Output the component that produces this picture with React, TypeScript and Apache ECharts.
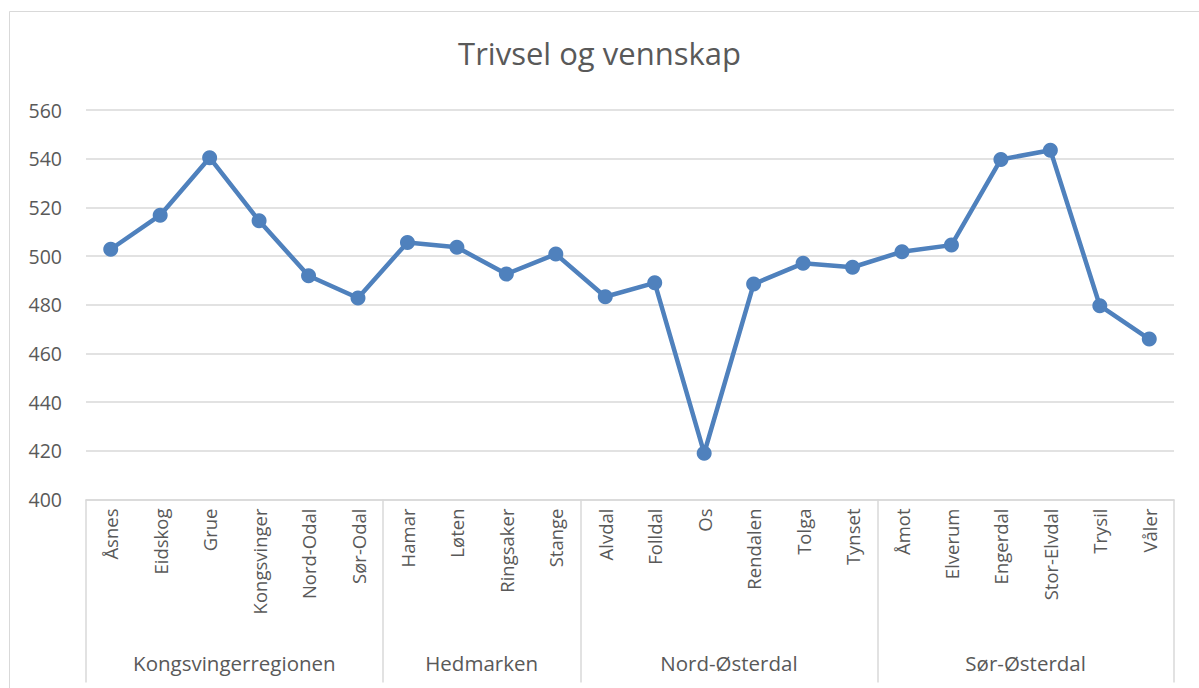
import React, { useEffect, useRef } from "react";
import * as echarts from "echarts";

const TITLE = "Trivsel og vennskap";
const categories = [
  "Åsnes", "Eidskog", "Grue", "Kongsvinger", "Nord-Odal", "Sør-Odal",
  "Hamar", "Løten", "Ringsaker", "Stange",
  "Alvdal", "Folldal", "Os", "Rendalen", "Tolga", "Tynset",
  "Åmot", "Elverum", "Engerdal", "Stor-Elvdal", "Trysil", "Våler",
];
const values = [
  502.8, 516.8, 540.4, 514.5, 491.9, 482.8,
  505.6, 503.6, 492.6, 500.8,
  483.3, 489.0, 419.0, 488.5, 497.0, 495.4,
  501.8, 504.5, 539.7, 543.5, 479.6, 465.9,
];
const groupNames = ["Kongsvingerregionen", "Hedmarken", "Nord-Østerdal", "Sør-Østerdal"];
const groupSizes = [6, 4, 6, 6];
const yMin = 400;
const yMax = 560;
const yStep = 20;

const FONT = "'Open Sans', sans-serif";
const TEXT = "#595959";
const GRID = "#d9d9d9";
const LINE = "#4f81bd";

export default function App() {
  const ref = useRef<HTMLDivElement>(null);
  useEffect(() => {
    document.body.style.margin = "0";
    const chart = echarts.init(ref.current!, null, { renderer: "svg" });
    const bounds: number[] = [0];
    groupSizes.forEach((s) => bounds.push(bounds[bounds.length - 1] + s));
    const centers = groupSizes.map((s, i) => bounds[i] + s / 2);
    chart.setOption({
      animation: false,
      backgroundColor: "#ffffff",
      textStyle: { fontFamily: FONT },
      title: {
        text: TITLE,
        left: "center",
        top: 32,
        textStyle: { fontFamily: FONT, fontSize: 31, fontWeight: "normal", color: TEXT },
      },
      graphic: [
        {
          type: "rect",
          shape: { x: 9.5, y: 11.5, width: 1200, height: 700 },
          style: { fill: "none", stroke: GRID, lineWidth: 1 },
          silent: true,
        },
      ],
      grid: { left: 86, right: 25, top: 110, bottom: 188.5, containLabel: false },
      xAxis: [
        {
          type: "category",
          data: categories,
          boundaryGap: true,
          axisLine: { show: true, lineStyle: { color: GRID, width: 1.5 } },
          axisTick: { show: false },
          axisLabel: {
            rotate: 90,
            margin: 9,
            fontFamily: FONT,
            fontSize: 18.5,
            color: TEXT,
            interval: 0,
          },
          splitLine: { show: false },
        },
        {
          type: "value",
          min: 0,
          max: categories.length,
          position: "bottom",
          axisLine: { show: false },
          splitLine: { show: false },
          axisTick: {
            show: true,
            customValues: bounds,
            length: 183,
            lineStyle: { color: GRID, width: 1.5 },
          },
          axisLabel: {
            customValues: centers,
            margin: 153,
            fontFamily: FONT,
            fontSize: 20.5,
            color: TEXT,
            formatter: (v: number) => {
              const i = centers.findIndex((c) => Math.abs(c - v) < 1e-6);
              return i >= 0 ? groupNames[i] : "";
            },
          },
        },
      ],
      yAxis: {
        type: "value",
        min: yMin,
        max: yMax,
        interval: yStep,
        axisLine: { show: false },
        axisTick: { show: false },
        axisLabel: { margin: 24, fontFamily: FONT, fontSize: 19.5, color: TEXT },
        splitLine: { show: true, lineStyle: { color: GRID, width: 1.5 } },
      },
      series: [
        {
          type: "line",
          data: values,
          xAxisIndex: 0,
          symbol: "circle",
          symbolSize: 15,
          lineStyle: { color: LINE, width: 4.5 },
          itemStyle: { color: LINE },
        },
      ],
    });
    return () => chart.dispose();
  }, []);
  return <div ref={ref} style={{ width: 1199, height: 688 }} />;
}
